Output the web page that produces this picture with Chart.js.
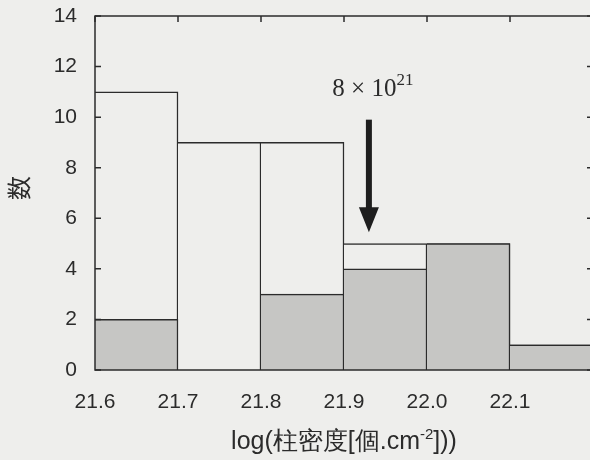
<!DOCTYPE html>
<html>
<head>
<meta charset="utf-8">
<script src="https://cdn.jsdelivr.net/npm/chart.js@4"></script>
<style>
  html, body { margin: 0; padding: 0; background: #eeeeec; overflow: hidden; }
  #wrap { position: relative; width: 600px; height: 460px; }
</style>
</head>
<body>
<div id="wrap"><canvas id="chart" width="600" height="460"></canvas></div>
<script>
// Histogram of column densities: open bars are all sources, shaded bars a subset.
const binStart = [21.6, 21.7, 21.8, 21.9, 22.0, 22.1];
const binWidth = 0.1;
const totalCounts = [11, 9, 9, 5, 5, 1];
const shadedCounts = [2, 0, 3, 4, 5, 1];
const xTickLabels = ["21.6", "21.7", "21.8", "21.9", "22.0", "22.1", ""];
const yTickLabels = ["0", "2", "4", "6", "8", "10", "12", "14"];
const markerValue = 21.93; // arrow, labelled 8 x 10^21
const markerTop = 9.9;
const markerTip = 5.45;

const INK = "#2b2b2b";
const PAPER = "#eeeeec";
const SHADE = "#c6c6c4";
const sans = "'Liberation Sans', Arial, sans-serif";
const serif = "'Liberation Serif', 'Times New Roman', serif";

const centers = binStart.map((b) => b + binWidth / 2);
const toPoints = (arr) => arr.map((v, i) => ({ x: centers[i], y: v }));

const frame = {
  id: "frame",
  afterDatasetsDraw(c) {
    const { ctx, chartArea: a, scales } = c;
    const x = scales.x, y = scales.y;
    ctx.save();
    ctx.strokeStyle = INK;
    ctx.lineWidth = 1.5;
    ctx.strokeRect(a.left, a.top, a.right - a.left, a.bottom - a.top);
    // inward ticks
    ctx.beginPath();
    y.ticks.forEach((t) => {
      const py = y.getPixelForValue(t.value);
      ctx.moveTo(a.left, py); ctx.lineTo(a.left + 6, py);
      ctx.moveTo(a.right, py); ctx.lineTo(a.right - 6, py);
    });
    x.ticks.forEach((t) => {
      const px = x.getPixelForValue(t.value);
      ctx.moveTo(px, a.top); ctx.lineTo(px, a.top + 6);
    });
    ctx.stroke();

    // arrow
    const ax = x.getPixelForValue(markerValue);
    const y0 = y.getPixelForValue(markerTop);
    const y1 = y.getPixelForValue(markerTip);
    ctx.fillStyle = "#1e1e1e";
    ctx.fillRect(ax - 3, y0, 6, y1 - y0 - 20);
    ctx.beginPath();
    ctx.moveTo(ax - 10, y1 - 25);
    ctx.lineTo(ax + 10, y1 - 25);
    ctx.lineTo(ax, y1);
    ctx.closePath();
    ctx.fill();

    // arrow label
    ctx.fillStyle = INK;
    ctx.textBaseline = "alphabetic";
    const main = "8 \u00d7 10";
    ctx.font = "25px " + serif;
    const mw = ctx.measureText(main).width;
    ctx.font = "17px " + serif;
    const sw = ctx.measureText("21").width;
    let tx = ax + 4 - (mw + sw) / 2;
    ctx.font = "25px " + serif;
    ctx.fillText(main, tx, 96);
    ctx.font = "17px " + serif;
    ctx.fillText("21", tx + mw, 85);

    // x title with superscript
    const parts = [["log(柱密度[個.cm", 25, 0], ["-2", 15, -10], ["]))", 25, 0]];
    let total = 0;
    parts.forEach((p) => { ctx.font = p[1] + "px " + sans; total += ctx.measureText(p[0]).width; });
    let px = (a.left + a.right) / 2 - total / 2;
    parts.forEach((p) => {
      ctx.font = p[1] + "px " + sans;
      ctx.fillText(p[0], px, 449 + p[2]);
      px += ctx.measureText(p[0]).width;
    });

    // y title
    ctx.translate(19, 188);
    ctx.rotate(-Math.PI / 2);
    ctx.font = "24px 'Noto Sans CJK JP', sans-serif";
    ctx.textAlign = "center";
    ctx.textBaseline = "middle";
    ctx.fillText("数", 0, 0);
    ctx.restore();
  },
};

const bw = { top: 1.5, right: 1.5, left: 0, bottom: 0 };

new Chart(document.getElementById("chart"), {
  type: "bar",
  data: {
    datasets: [
      {
        label: "all",
        data: toPoints(totalCounts),
        backgroundColor: PAPER,
        borderColor: INK,
        borderWidth: bw,
        borderSkipped: false,
        grouped: false,
        order: 2,
        barPercentage: 1,
        categoryPercentage: 1,
      },
      {
        label: "subset",
        data: toPoints(shadedCounts),
        backgroundColor: SHADE,
        borderColor: INK,
        borderWidth: bw,
        borderSkipped: false,
        grouped: false,
        order: 1,
        barPercentage: 1,
        categoryPercentage: 1,
      },
    ],
  },
  options: {
    responsive: false,
    animation: false,
    layout: { padding: { top: 16, right: 7, left: 0, bottom: 0 } },
    plugins: { legend: { display: false }, tooltip: { enabled: false } },
    scales: {
      x: {
        type: "linear",
        offset: false,
        min: 21.6,
        max: 22.2,
        afterFit: (s) => { s.height = 90; s.paddingLeft = 0; s.paddingRight = 0; },
        afterBuildTicks: (s) => { s.ticks = binStart.concat([22.2]).map((v) => ({ value: v })); },
        grid: { display: false, drawTicks: false, offset: false },
        border: { display: false },
        ticks: {
          padding: 20,
          color: INK,
          font: { family: sans, size: 21 },
          callback: (v, i) => xTickLabels[i],
        },
      },
      y: {
        min: 0,
        max: 14,
        afterFit: (s) => { s.width = 95; s.paddingTop = 0; s.paddingBottom = 0; },
        grid: { display: false, drawTicks: false },
        border: { display: false },
        ticks: {
          stepSize: 2,
          padding: 18,
          color: INK,
          font: { family: sans, size: 21 },
          callback: (v, i) => yTickLabels[i],
        },
      },
    },
  },
  plugins: [frame],
});
</script>
</body>
</html>
